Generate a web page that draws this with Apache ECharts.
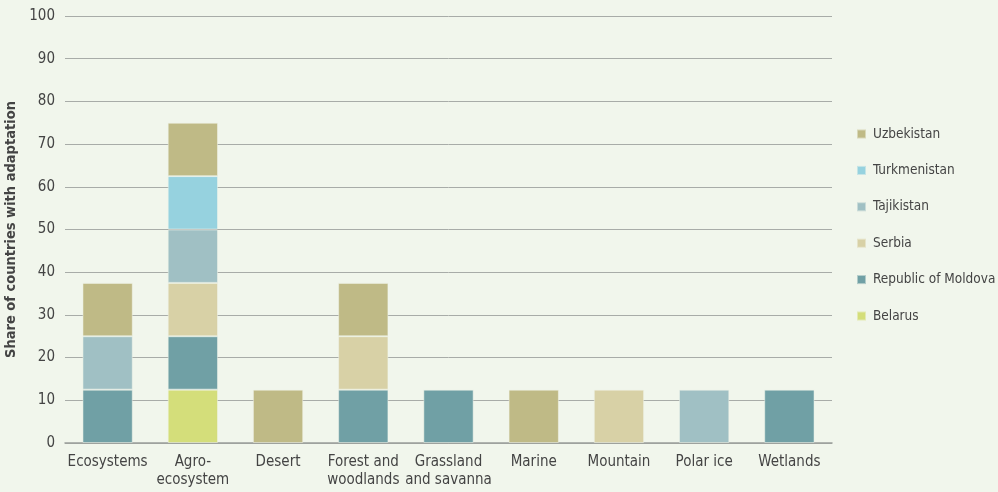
<!DOCTYPE html>
<html><head><meta charset="utf-8">
<script src="https://cdn.jsdelivr.net/npm/echarts@6/dist/echarts.min.js"></script>
<style>html,body{margin:0;padding:0;background:#f1f6ec}#c{width:998px;height:492px}</style>
</head><body><div id="c"></div>
<script>
const categories = ['Ecosystems','Agro-\necosystem','Desert','Forest and\nwoodlands','Grassland\nand savanna','Marine','Mountain','Polar ice','Wetlands'];
const belarus      = [0, 12.5, 0, 0, 0, 0, 0, 0, 0];
const moldova      = [12.5, 12.5, 0, 12.5, 12.5, 0, 0, 0, 12.5];
const serbia       = [0, 12.5, 0, 12.5, 0, 0, 12.5, 0, 0];
const tajikistan   = [12.5, 12.5, 0, 0, 0, 0, 0, 12.5, 0];
const turkmenistan = [0, 12.5, 0, 0, 0, 0, 0, 0, 0];
const uzbekistan   = [12.5, 12.5, 12.5, 12.5, 0, 12.5, 0, 0, 0];
const seriesNames = ['Belarus','Republic of Moldova','Serbia','Tajikistan','Turkmenistan','Uzbekistan'];
const seriesData = [belarus, moldova, serbia, tajikistan, turkmenistan, uzbekistan];
const colors = ['#d4de7a','#70a0a5','#d8d1a6','#a0c0c4','#96d2df','#bfba86'];
const FONT = '"Liberation Sans Narrow","DejaVu Sans Condensed","Roboto",sans-serif';

const chart = echarts.init(document.getElementById('c'));
chart.setOption({
  backgroundColor: '#f1f6ec',
  animation: false,
  grid: {left: 65, right: 166, top: 16, bottom: 49, containLabel: false, outerBoundsMode: 'none'},
  legend: {
    orient: 'vertical', left: 851, top: 122,
    data: seriesNames.slice().reverse(),
    icon: 'rect', itemWidth: 9, itemHeight: 9, itemGap: 22.4,
    textStyle: {fontFamily: FONT, fontSize: 13.5, color: '#444', padding: [0,0,0,2]}
  },
  xAxis: {
    type: 'category', data: categories,
    axisLine: {lineStyle: {color: '#9a9e9a', width: 1.5}},
    axisTick: {show: false},
    axisLabel: {fontFamily: FONT, fontSize: 15, color: '#444', margin: 10, lineHeight: 18, interval: 0}
  },
  yAxis: {
    type: 'value', min: 0, max: 100, interval: 10,
    name: 'Share of countries with adaptation', nameLocation: 'middle', nameGap: 36,
    nameTextStyle: {fontFamily: FONT, fontSize: 14.5, fontWeight: 'bold', color: '#444'},
    axisLine: {show: false}, axisTick: {show: false},
    axisLabel: {fontFamily: FONT, fontSize: 15, color: '#444', margin: 10},
    splitLine: {lineStyle: {color: '#a8aca8', width: 1}}
  },
  series: seriesNames.map((n, i) => ({
    name: n, type: 'bar', stack: 'a', barWidth: '59%',
    data: seriesData[i].map(v => v === 0 ? null : v),
    itemStyle: {color: colors[i], borderColor: 'rgba(241,246,236,0.5)', borderWidth: 1}
  }))
});
</script></body></html>
